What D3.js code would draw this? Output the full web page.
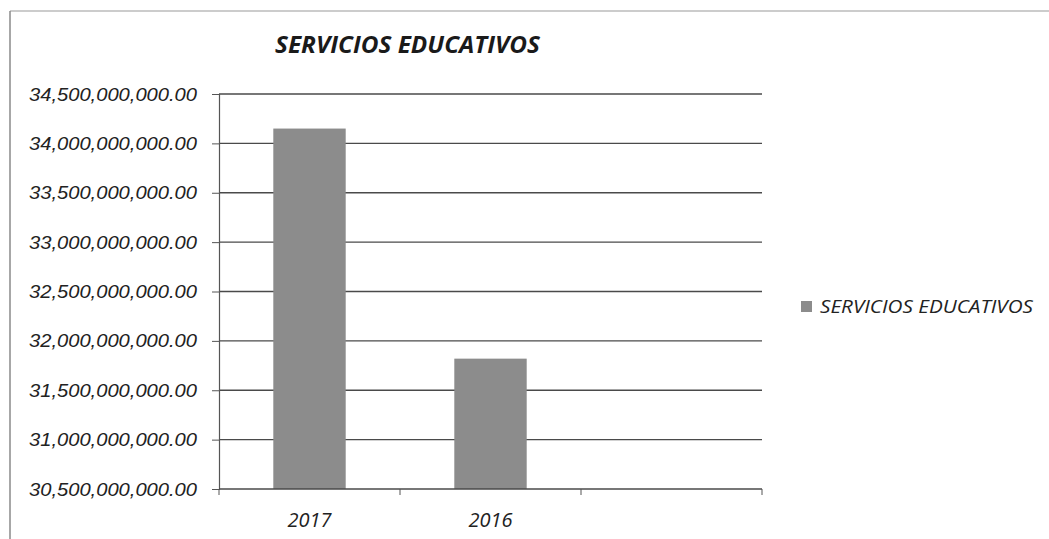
<!DOCTYPE html>
<meta charset="utf-8">
<title>Servicios educativos</title>
<head>
    <script src="https://cdn.jsdelivr.net/npm/d3@7"></script>
</head>
<body style="margin: 0px; background: #fff">
<script>

    var categories = ["2017", "2016", ""];
    var seriesName = "SERVICIOS EDUCATIVOS";
    var values = [34150000000, 31820000000, null];
    var yTicks = [30500000000, 31000000000, 31500000000, 32000000000, 32500000000,
                  33000000000, 33500000000, 34000000000, 34500000000];

    var width = 1049,
        height = 539,
        plotLeft = 219, plotRight = 762, plotTop = 94, plotBottom = 489;

    var svg = d3.select("body").append("svg")
        .attr("width", width)
        .attr("height", height)
        .style("font-family", "'Open Sans', sans-serif");

    // scanned page frame
    svg.append("line").attr("x1", 10).attr("x2", width).attr("y1", 11).attr("y2", 11)
        .attr("stroke", "#9a9a9a").attr("stroke-width", 1.2);
    svg.append("line").attr("x1", 10).attr("x2", 10).attr("y1", 11).attr("y2", height)
        .attr("stroke", "#8a8a8a").attr("stroke-width", 1.5);

    var y = d3.scaleLinear().domain([30500000000, 34500000000]).range([plotBottom, plotTop]);
    var x = d3.scaleBand().domain(categories).range([plotLeft, plotRight])
        .paddingInner(0.6).paddingOuter(0.3);
    var step = x.step();

    // gridlines
    svg.append("g").selectAll("line").data(yTicks.slice(1)).enter().append("line")
        .attr("x1", plotLeft).attr("x2", plotRight)
        .attr("y1", function (d) { return y(d); })
        .attr("y2", function (d) { return y(d); })
        .attr("stroke", "#4a4a4a").attr("stroke-width", 1.3);

    // bars
    svg.append("g").selectAll("rect").data(categories.filter(function (c, i) { return values[i] != null; }))
        .enter().append("rect")
        .attr("x", function (d) { return x(d); })
        .attr("width", x.bandwidth())
        .attr("y", function (d) { return y(values[categories.indexOf(d)]); })
        .attr("height", function (d) { return plotBottom - y(values[categories.indexOf(d)]); })
        .attr("fill", "#8c8c8c");

    // y axis
    var yAxis = d3.axisLeft(y).tickValues(yTicks).tickSize(7).tickPadding(15)
        .tickFormat(function (d) { return d3.format(",.2f")(d); });
    var gy = svg.append("g").attr("transform", "translate(" + plotLeft + ",0)").call(yAxis);
    gy.select(".domain").attr("stroke", "#555").attr("stroke-width", 1.2);
    gy.selectAll(".tick line").attr("stroke", "#555");
    gy.selectAll("text").attr("font-size", "19px").attr("font-style", "italic")
        .attr("fill", "#222").attr("textLength", 168).attr("lengthAdjust", "spacingAndGlyphs");

    // x axis
    var gx = svg.append("g").attr("transform", "translate(0," + plotBottom + ")");
    gx.append("line").attr("x1", plotLeft).attr("x2", plotRight)
        .attr("stroke", "#4a4a4a").attr("stroke-width", 1.3);
    var edges = d3.range(categories.length + 1).map(function (i) { return plotLeft + i * step; });
    gx.selectAll("line.tk").data(edges).enter().append("line").attr("class", "tk")
        .attr("x1", function (d) { return d; }).attr("x2", function (d) { return d; })
        .attr("y1", 0).attr("y2", 6).attr("stroke", "#555");
    gx.selectAll("text").data(categories).enter().append("text")
        .attr("x", function (d) { return x(d) + x.bandwidth() / 2; })
        .attr("y", 38)
        .attr("text-anchor", "middle")
        .attr("font-size", "20px").attr("font-style", "italic").attr("fill", "#222")
        .text(function (d) { return d; });

    // title
    svg.append("text").attr("x", 275).attr("y", 53)
        .attr("font-size", "23px").attr("font-weight", "bold").attr("font-style", "italic")
        .attr("fill", "#1a1a1a")
        .attr("textLength", 265).attr("lengthAdjust", "spacingAndGlyphs")
        .text(seriesName);

    // legend
    svg.append("rect").attr("x", 801).attr("y", 301).attr("width", 11).attr("height", 11)
        .attr("fill", "#8c8c8c");
    svg.append("text").attr("x", 820).attr("y", 313)
        .attr("font-size", "18px").attr("font-style", "italic").attr("fill", "#222")
        .attr("textLength", 213).attr("lengthAdjust", "spacingAndGlyphs")
        .text(seriesName);

</script>
